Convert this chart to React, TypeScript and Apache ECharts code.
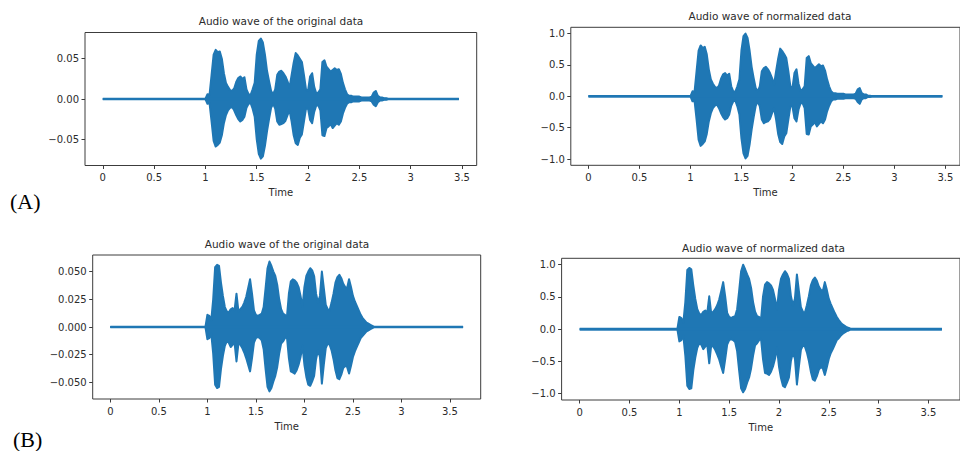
import React, { useEffect, useRef } from "react";
import * as echarts from "echarts";

// ---------- axis ticks ----------
const TIME_TICKS = [0, 0.5, 1, 1.5, 2, 2.5, 3, 3.5];
const ORIG_A_TICKS = [-0.05, 0, 0.05];
const ORIG_B_TICKS = [-0.05, -0.025, 0, 0.025, 0.05];
const NORM_TICKS = [-1, -0.5, 0, 0.5, 1];

// ---------- recording timing (seconds) ----------
const A_DURATION = 3.47;
const A_START = 1.0;
const B_DURATION = 3.635;
const B_START = 0.98;
const STEP = 0.02;

// ---------- (A) original: envelope, t = 1.00 .. 2.80 ----------
const A_ORIG_UPPER = [
  0, 0.006, 0.005, 0.03, 0.055, 0.061, 0.058, 0.059, 0.05, 0.032,
  0.02, 0.015, 0.011, 0.01, 0.013, 0.021, 0.026, 0.028, 0.025, 0.027,
  0.012, 0.006, 0.005, 0.012, 0.02, 0.055, 0.072, 0.075, 0.07, 0.055,
  0.035, 0.022, 0.01, 0.006, 0.012, 0.03, 0.034, 0.035, 0.032, 0.028,
  0.022, 0.014, 0.03, 0.045, 0.057, 0.054, 0.05, 0.046, 0.03, 0.012,
  0.01, 0.028, 0.032, 0.015, 0.007, 0.008, 0.012, 0.046, 0.048, 0.04,
  0.037, 0.034, 0.036, 0.038, 0.036, 0.037, 0.031, 0.02, 0.012, 0.006,
  0.004, 0.004, 0.003, 0.003, 0.003, 0.003, 0.002, 0.002, 0.002, 0.002,
  0.002, 0.003, 0.008, 0.01, 0.004, 0.002, 0.002, 0.001, 0.001, 0,
  0,
];
const A_ORIG_LOWER = [
  0, -0.006, -0.005, -0.028, -0.052, -0.059, -0.057, -0.054, -0.045, -0.03,
  -0.02, -0.014, -0.011, -0.01, -0.014, -0.02, -0.025, -0.028, -0.026, -0.022,
  -0.011, -0.006, -0.005, -0.012, -0.022, -0.05, -0.068, -0.074, -0.071, -0.058,
  -0.04, -0.025, -0.011, -0.006, -0.012, -0.028, -0.032, -0.031, -0.03, -0.027,
  -0.02, -0.014, -0.028, -0.045, -0.055, -0.057, -0.048, -0.044, -0.028, -0.012,
  -0.012, -0.026, -0.03, -0.016, -0.008, -0.008, -0.014, -0.045, -0.046, -0.036,
  -0.034, -0.031, -0.036, -0.033, -0.03, -0.032, -0.028, -0.018, -0.011, -0.006,
  -0.004, -0.004, -0.003, -0.003, -0.003, -0.003, -0.002, -0.002, -0.002, -0.002,
  -0.002, -0.003, -0.007, -0.009, -0.004, -0.002, -0.002, -0.001, -0.001, 0,
  0,
];
// ---------- (A) normalized ----------
const A_NORM_UPPER = [
  0, 0.08, 0.07, 0.4, 0.73, 0.81, 0.77, 0.79, 0.67, 0.43,
  0.27, 0.2, 0.15, 0.13, 0.17, 0.28, 0.35, 0.37, 0.33, 0.36,
  0.16, 0.08, 0.07, 0.16, 0.27, 0.73, 0.96, 1.0, 0.93, 0.73,
  0.47, 0.29, 0.13, 0.08, 0.16, 0.4, 0.45, 0.47, 0.43, 0.37,
  0.29, 0.19, 0.4, 0.6, 0.76, 0.72, 0.67, 0.61, 0.4, 0.16,
  0.13, 0.37, 0.43, 0.2, 0.09, 0.11, 0.16, 0.61, 0.64, 0.53,
  0.49, 0.45, 0.48, 0.51, 0.48, 0.49, 0.41, 0.27, 0.16, 0.08,
  0.05, 0.05, 0.04, 0.04, 0.04, 0.04, 0.03, 0.03, 0.03, 0.03,
  0.03, 0.04, 0.11, 0.13, 0.05, 0.03, 0.03, 0.01, 0.01, 0,
  0,
];
const A_NORM_LOWER = [
  0, -0.08, -0.07, -0.37, -0.69, -0.79, -0.76, -0.72, -0.6, -0.4,
  -0.27, -0.19, -0.15, -0.13, -0.19, -0.27, -0.33, -0.37, -0.35, -0.29,
  -0.15, -0.08, -0.07, -0.16, -0.29, -0.67, -0.91, -0.99, -0.95, -0.77,
  -0.53, -0.33, -0.15, -0.08, -0.16, -0.37, -0.43, -0.41, -0.4, -0.36,
  -0.27, -0.19, -0.37, -0.6, -0.73, -0.76, -0.64, -0.59, -0.37, -0.16,
  -0.16, -0.35, -0.4, -0.21, -0.11, -0.11, -0.19, -0.6, -0.61, -0.48,
  -0.45, -0.41, -0.48, -0.44, -0.4, -0.43, -0.37, -0.24, -0.15, -0.08,
  -0.05, -0.05, -0.04, -0.04, -0.04, -0.04, -0.03, -0.03, -0.03, -0.03,
  -0.03, -0.04, -0.09, -0.12, -0.05, -0.03, -0.03, -0.01, -0.01, 0,
  0,
];

// ---------- (B) original: t = 0.98 .. 2.72 ----------
const B_ORIG_UPPER = [
  0, 0.011, 0.01, 0.006, 0.025, 0.054, 0.056, 0.055, 0.04, 0.028,
  0.018, 0.014, 0.013, 0.016, 0.017, 0.015, 0.03, 0.014, 0.016, 0.018,
  0.022, 0.027, 0.035, 0.043, 0.03, 0.015, 0.011, 0.01, 0.011, 0.012,
  0.018, 0.035, 0.053, 0.059, 0.055, 0.05, 0.046, 0.038, 0.025, 0.016,
  0.012, 0.011, 0.009, 0.03, 0.041, 0.043, 0.042, 0.04, 0.036, 0.028,
  0.018, 0.036, 0.046, 0.05, 0.053, 0.051, 0.046, 0.03, 0.022, 0.028,
  0.05, 0.035, 0.02, 0.016, 0.015, 0.022, 0.03, 0.04, 0.045, 0.047,
  0.044, 0.039, 0.036, 0.035, 0.043, 0.036, 0.028, 0.023, 0.019, 0.015,
  0.011, 0.008, 0.006, 0.004, 0.003, 0.002, 0.001, 0,
];
const B_ORIG_LOWER = [
  0, -0.011, -0.01, -0.006, -0.024, -0.052, -0.055, -0.054, -0.038, -0.026,
  -0.017, -0.013, -0.014, -0.018, -0.016, -0.014, -0.031, -0.015, -0.016, -0.019,
  -0.023, -0.028, -0.034, -0.04, -0.028, -0.014, -0.01, -0.009, -0.01, -0.012,
  -0.02, -0.038, -0.054, -0.058, -0.055, -0.049, -0.044, -0.036, -0.024, -0.015,
  -0.013, -0.01, -0.009, -0.028, -0.04, -0.041, -0.042, -0.039, -0.034, -0.027,
  -0.017, -0.034, -0.045, -0.052, -0.053, -0.049, -0.044, -0.029, -0.021, -0.027,
  -0.051, -0.034, -0.019, -0.015, -0.016, -0.021, -0.029, -0.039, -0.046, -0.047,
  -0.043, -0.037, -0.035, -0.036, -0.042, -0.035, -0.027, -0.022, -0.018, -0.014,
  -0.01, -0.008, -0.006, -0.004, -0.003, -0.002, -0.001, 0,
];
// ---------- (B) normalized ----------
const B_NORM_UPPER = [
  0, 0.19, 0.17, 0.1, 0.42, 0.92, 0.95, 0.93, 0.68, 0.47,
  0.31, 0.24, 0.22, 0.27, 0.29, 0.25, 0.51, 0.24, 0.27, 0.31,
  0.37, 0.46, 0.59, 0.73, 0.51, 0.25, 0.19, 0.17, 0.19, 0.2,
  0.31, 0.59, 0.9, 1.0, 0.93, 0.85, 0.78, 0.64, 0.42, 0.27,
  0.2, 0.19, 0.15, 0.51, 0.69, 0.73, 0.71, 0.68, 0.61, 0.47,
  0.31, 0.61, 0.78, 0.85, 0.9, 0.86, 0.78, 0.51, 0.37, 0.47,
  0.85, 0.59, 0.34, 0.27, 0.25, 0.37, 0.51, 0.68, 0.76, 0.8,
  0.75, 0.66, 0.61, 0.59, 0.73, 0.61, 0.47, 0.39, 0.32, 0.25,
  0.19, 0.14, 0.1, 0.07, 0.05, 0.03, 0.02, 0,
];
const B_NORM_LOWER = [
  0, -0.19, -0.17, -0.1, -0.41, -0.88, -0.93, -0.92, -0.64, -0.44,
  -0.29, -0.22, -0.24, -0.31, -0.27, -0.24, -0.53, -0.25, -0.27, -0.32,
  -0.39, -0.47, -0.58, -0.68, -0.47, -0.24, -0.17, -0.15, -0.17, -0.2,
  -0.34, -0.64, -0.92, -0.98, -0.93, -0.83, -0.75, -0.61, -0.41, -0.25,
  -0.22, -0.17, -0.15, -0.47, -0.68, -0.69, -0.71, -0.66, -0.58, -0.46,
  -0.29, -0.58, -0.76, -0.88, -0.9, -0.83, -0.75, -0.49, -0.36, -0.46,
  -0.86, -0.58, -0.32, -0.25, -0.27, -0.36, -0.49, -0.66, -0.78, -0.8,
  -0.73, -0.63, -0.59, -0.61, -0.71, -0.59, -0.46, -0.37, -0.31, -0.24,
  -0.17, -0.14, -0.1, -0.07, -0.05, -0.03, -0.02, 0,
];

const TITLE_ORIG = "Audio wave of the original data";
const TITLE_NORM = "Audio wave of normalized data";
const X_NAME = "Time";

const BLUE = "#1f77b4";
const INK = "#2b2b2b";
const SPINE = "#3c3c3c";
const FONT = "DejaVu Sans";

function wave(start: number, duration: number, vals: number[]) {
  const pts: number[][] = [[0, 0]];
  vals.forEach((v, i) => pts.push([+(start + i * STEP).toFixed(3), v]));
  pts.push([duration, 0]);
  return pts;
}

const fmtMinus = (s: string) => s.replace("-", "\u2212");

export default function App() {
  const ref = useRef<HTMLDivElement>(null);
  useEffect(() => {
    if (!ref.current) return;
    const chart = echarts.init(ref.current, undefined, { renderer: "svg" });

    const panels = [
      {
        grid: { left: 85, top: 32.5, width: 391.7, height: 133 },
        x: [-0.1735, 3.6435],
        y: [-0.0825, 0.0825],
        yTicks: ORIG_A_TICKS,
        dec: 2,
        dur: A_DURATION,
        up: wave(A_START, A_DURATION, A_ORIG_UPPER),
        lo: wave(A_START, A_DURATION, A_ORIG_LOWER),
        title: TITLE_ORIG,
        tpos: [281, 21],
      },
      {
        grid: { left: 570.8, top: 27.3, width: 401, height: 138 },
        x: [-0.1735, 3.6435],
        y: [-1.1, 1.1],
        yTicks: NORM_TICKS,
        dec: 1,
        dur: A_DURATION,
        up: wave(A_START, A_DURATION, A_NORM_UPPER),
        lo: wave(A_START, A_DURATION, A_NORM_LOWER),
        title: TITLE_NORM,
        tpos: [770, 15.5],
      },
      {
        grid: { left: 92.7, top: 255, width: 388, height: 144 },
        x: [-0.18175, 3.81675],
        y: [-0.0649, 0.0649],
        yTicks: ORIG_B_TICKS,
        dec: 3,
        dur: B_DURATION,
        up: wave(B_START, B_DURATION, B_ORIG_UPPER),
        lo: wave(B_START, B_DURATION, B_ORIG_LOWER),
        title: TITLE_ORIG,
        tpos: [287, 244],
      },
      {
        grid: { left: 561.6, top: 258.3, width: 404.3, height: 141.7 },
        x: [-0.18175, 3.81675],
        y: [-1.1, 1.1],
        yTicks: NORM_TICKS,
        dec: 1,
        dur: B_DURATION,
        up: wave(B_START, B_DURATION, B_NORM_UPPER),
        lo: wave(B_START, B_DURATION, B_NORM_LOWER),
        title: TITLE_NORM,
        tpos: [763.5, 247.5],
      },
    ];

    const tick = { show: true, inside: false, length: 3.5, lineStyle: { color: SPINE, width: 1 } };

    const option: any = {
      animation: false,
      backgroundColor: "#ffffff",
      textStyle: { fontFamily: FONT },
      grid: panels.map((p) => ({
        ...p.grid,
        show: true,
        borderColor: SPINE,
        borderWidth: 1,
        backgroundColor: "transparent",
        containLabel: false,
      })),
      xAxis: panels.map((p, i) => ({
        type: "value",
        gridIndex: i,
        min: p.x[0],
        max: p.x[1],
        position: "bottom",
        splitLine: { show: false },
        axisLine: { show: false, onZero: false },
        axisTick: { ...tick, customValues: TIME_TICKS },
        axisLabel: {
          customValues: TIME_TICKS,
          color: INK,
          fontSize: 10,
          fontFamily: FONT,
          margin: 7,
          formatter: (v: number) => String(v),
        },
        name: X_NAME,
        nameLocation: "middle",
        nameGap: 22,
        nameTextStyle: { color: INK, fontSize: 10, fontFamily: FONT },
      })),
      yAxis: panels.map((p, i) => ({
        type: "value",
        gridIndex: i,
        min: p.y[0],
        max: p.y[1],
        position: "left",
        splitLine: { show: false },
        axisLine: { show: false, onZero: false },
        axisTick: { ...tick, customValues: p.yTicks },
        axisLabel: {
          customValues: p.yTicks,
          color: INK,
          fontSize: 10,
          fontFamily: FONT,
          margin: 6,
          formatter: (v: number) => fmtMinus(v.toFixed(p.dec)),
        },
      })),
      series: panels.flatMap((p, i) => [
        ...[p.up, p.lo].map((d) => ({
          type: "line",
          xAxisIndex: i,
          yAxisIndex: i,
          data: d,
          showSymbol: false,
          symbol: "none",
          smooth: false,
          lineStyle: { color: BLUE, width: 2, join: "round" },
          areaStyle: { color: BLUE, opacity: 1 },
          itemStyle: { color: BLUE },
          silent: true,
        })),
        {
          type: "line",
          xAxisIndex: i,
          yAxisIndex: i,
          data: [
            [0, 0],
            [p.dur, 0],
          ],
          showSymbol: false,
          symbol: "none",
          lineStyle: { color: BLUE, width: 2.6 },
          silent: true,
        },
      ]),
      graphic: [
        ...panels.map((p) => ({
          type: "text",
          x: p.tpos[0],
          y: p.tpos[1],
          style: {
            text: p.title,
            fontSize: 10.5,
            fontFamily: FONT,
            fill: INK,
            align: "center",
            verticalAlign: "middle",
          },
        })),
        {
          type: "text",
          x: 10,
          y: 201,
          style: {
            text: "(A)",
            fontSize: 22,
            fontFamily: "Liberation Serif",
            fill: "#000",
            align: "left",
            verticalAlign: "middle",
          },
        },
        {
          type: "text",
          x: 13,
          y: 439,
          style: {
            text: "(B)",
            fontSize: 22,
            fontFamily: "Liberation Serif",
            fill: "#000",
            align: "left",
            verticalAlign: "middle",
          },
        },
      ],
    };

    chart.setOption(option);
    return () => chart.dispose();
  }, []);

  return (
    <div
      ref={ref}
      style={{ position: "absolute", left: 0, top: 0, width: 960, height: 451 }}
    />
  );
}
